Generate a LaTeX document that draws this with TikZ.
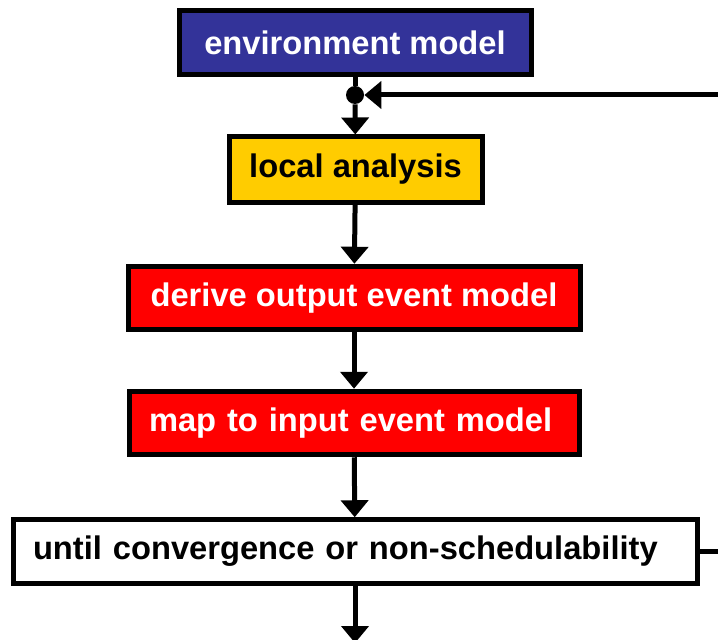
\documentclass[tikz,border=0pt]{standalone}
\usepackage{fontspec}
\setmainfont{Liberation Sans}
\usetikzlibrary{arrows.meta, positioning}
\definecolor{envblue}{HTML}{333399}
\definecolor{locgold}{HTML}{FFCC00}
\definecolor{mapred}{HTML}{FF0000}

\begin{document}
\begin{tikzpicture}[
        box/.style={draw=black, line width=0.1cm, rectangle, inner sep=0pt,
            minimum height=1.27cm, font=\fontsize{18.6}{22}\selectfont\bfseries},
        flow/.style={draw=black, line width=0.1cm,
            -{Triangle[length=0.34cm, width=0.54cm]}}
    ]
        % Page frame (clips the loop and the last arrow at the edge)
        \clip (0,0) rectangle (14.36,12.78);

        % Boxes
        \node[box, fill=envblue, text=white, minimum width=7.04cm] (env) at (7.10, 11.93) {environment model};
        \node[circle, fill=black, inner sep=0pt, minimum size=0.36cm] (dot) at (7.10, 10.88) {};
        \node[box, fill=locgold, minimum width=5.06cm, minimum height=1.3cm] (local) at (7.11, 9.39) {local analysis};
        \node[box, fill=mapred, text=white, minimum width=9.04cm] (derive) at (7.08, 6.82) {derive output event model};
        \node[box, fill=mapred, text=white, text width=8.2cm, inner xsep=0.4cm, align=left] (map) at (7.08, 4.32) {map to input event model};
        \node[box, fill=white, text width=12.88cm, inner xsep=0.4cm, align=left] (until) at (7.10, 1.75) {until convergence or non-schedulability};

        % Flow
        \draw[line width=0.1cm] (env) -- (dot);
        \draw[flow] (dot) -- (local);
        \draw[flow] (local) -- (derive);
        \draw[flow] (derive) -- (map);
        \draw[flow] (map) -- (until);
        \coordinate (out) at (7.10, -0.08);
        \draw[flow] (until) -- (out);

        % Loop back
        \coordinate (back) at (14.8, 10.88);
        \draw[flow] (until.east) -| (back) -- (dot);
    \end{tikzpicture}
\end{document}
